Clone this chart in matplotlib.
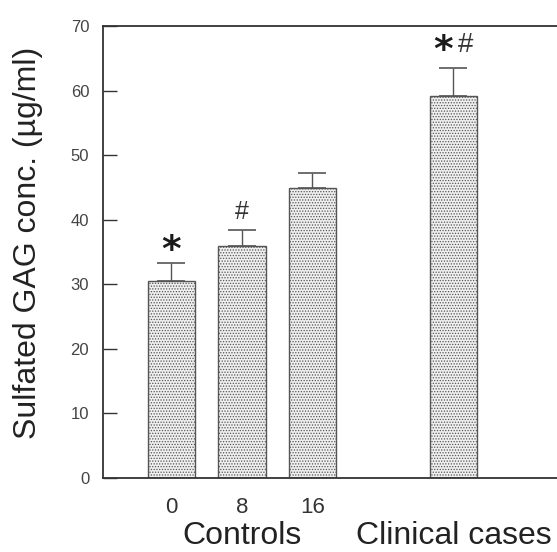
import numpy as np
import matplotlib.pyplot as plt

plt.rcParams['font.family'] = ['Liberation Sans', 'DejaVu Sans']
plt.rcParams['hatch.color'] = '#a0a0a0'
plt.rcParams['hatch.linewidth'] = 0.6

# Sulfated GAG concentration per group
groups = ['0', '8', '16', '']
positions = [0, 1, 2, 4]
means = [30.5, 35.9, 44.9, 59.1]
errors = [2.8, 2.5, 2.4, 4.4]
marks = ['*', '#', '', '*#']
yticks = [0, 10, 20, 30, 40, 50, 60, 70]

fig = plt.figure(figsize=(5.57, 5.52), dpi=100)
ax = fig.add_axes([0.185, 0.134, 0.815, 0.819])

ax.bar(positions, means, width=0.67, color='#efefef', edgecolor='#555555',
       linewidth=1.0, hatch='......', zorder=2)
ax.errorbar(positions, means, yerr=[np.zeros(len(means)), errors], fmt='none',
            ecolor='#555555', elinewidth=1.0, capsize=10, capthick=1.2, zorder=1)

# significance markers above the error bars
star_kw = dict(ha='center', va='center', fontsize=27, fontweight='bold',
               color='#1a1a1a', family='DejaVu Sans')
for x, m, e, s in zip(positions, means, errors, marks):
    if not s:
        continue
    top = m + e
    if s == '*':
        ax.text(x, top + 1.9, s, **star_kw)
    elif s == '#':
        ax.text(x, top + 2.8, s, ha='center', va='center', fontsize=18, color='#333333')
    else:
        ax.text(x - 0.14, top + 2.6, '*', **star_kw)
        ax.text(x + 0.17, top + 3.5, '#', ha='center', va='center', fontsize=20,
                color='#333333')

ax.set_xlim(-0.97, 5.47)
ax.set_ylim(0, 70)
ax.set_yticks(yticks)
ax.set_yticklabels([str(v) for v in yticks], fontsize=12, color='#444444')
ax.tick_params(axis='y', direction='in', length=10, width=1, color='#333333', pad=10)
ax.set_xticks(positions[:3])
ax.set_xticklabels(groups[:3], fontsize=16, color='#333333')
ax.tick_params(axis='x', length=0, pad=14)

for side in ['left', 'bottom', 'top']:
    ax.spines[side].set_color('#333333')
    ax.spines[side].set_linewidth(1.3)
ax.spines['right'].set_visible(False)

ax.text(1.0, -8.9, 'Controls', ha='center', va='center', fontsize=23, color='#222222')
ax.text(4.0, -8.9, 'Clinical cases', ha='center', va='center', fontsize=23, color='#222222')
fig.text(0.05, 0.56, 'Sulfated GAG conc. (\u00b5g/ml)', rotation=90,
         ha='center', va='center', fontsize=23, color='#222222')

fig.savefig('out.png', dpi=100)
